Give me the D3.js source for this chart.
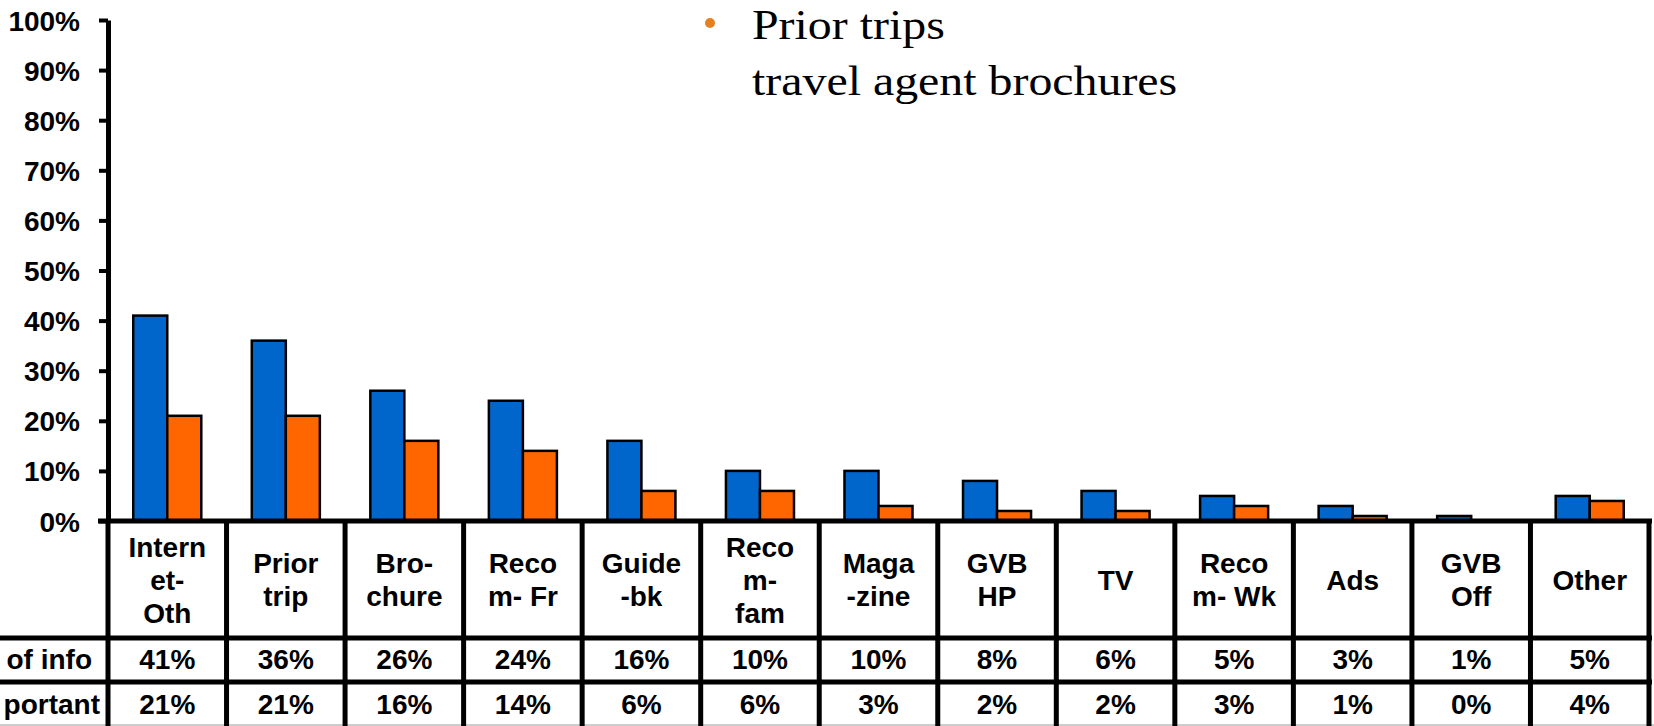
<!DOCTYPE html>
<html>
<head>
<meta charset="utf-8">
<script src="https://cdn.jsdelivr.net/npm/d3@7"></script>
<style>
  html, body { margin: 0; padding: 0; background: #ffffff; }
  svg { display: block; }
  .sans { font-family: "Liberation Sans", Arial, sans-serif; font-weight: bold; }
  .serif { font-family: "Liberation Serif", "Times New Roman", serif; }
</style>
</head>
<body>
<svg id="chart" width="1654" height="726"></svg>
<script>
// Information sources used when planning a trip
const categories = [
  ["Intern", "et-", "Oth"],
  ["Prior", "trip"],
  ["Bro-", "chure"],
  ["Reco", "m- Fr"],
  ["Guide", "-bk"],
  ["Reco", "m-", "fam"],
  ["Maga", "-zine"],
  ["GVB", "HP"],
  ["TV"],
  ["Reco", "m- Wk"],
  ["Ads"],
  ["GVB", "Off"],
  ["Other"]
];
// share of respondents (%) that used the source
const sourceOfInfo = [41, 36, 26, 24, 16, 10, 10, 8, 6, 5, 3, 1, 5];
// share of respondents (%) naming it the most important source
const mostImportant = [21, 21, 16, 14, 6, 6, 3, 2, 2, 3, 1, 0, 4];
const seriesNames = ["of info", "portant"];
const yTicks = [0, 10, 20, 30, 40, 50, 60, 70, 80, 90, 100];
const legendLines = ["Prior trips", "travel agent brochures"];

const colors = ["#0066CC", "#FF6600"];

const svg = d3.select("#chart");
const W = 1654, H = 726;
const axisX = 108, yBase = 521, yTop = 20, rightX = 1649;
const rowLabelBottom = 638, rowInfoBottom = 682, rowImpBottom = 740;

const keys = categories.map((c, i) => "c" + i);
const x = d3.scaleBand().domain(keys).range([axisX, rightX]).padding(0);
const bw = x.bandwidth();
const xs = d3.scaleBand().domain([0, 1]).range([bw * 0.213, bw * 0.787]).padding(0);
const y = d3.scaleLinear().domain([0, 100]).range([yBase, yTop]);

const rows = keys.map((k, i) => ({ key: k, vals: [sourceOfInfo[i], mostImportant[i]] }));

// bars
const groups = svg.append("g").selectAll("g").data(rows).join("g")
  .attr("transform", d => `translate(${x(d.key)},0)`);
groups.selectAll("rect")
  .data(d => d.vals.map((v, s) => ({ v, s })))
  .join("rect")
  .attr("x", d => xs(d.s))
  .attr("width", xs.bandwidth())
  .attr("y", d => y(d.v))
  .attr("height", d => yBase - y(d.v))
  .attr("fill", d => colors[d.s])
  .attr("stroke", "#000")
  .attr("stroke-width", 2.5);

// y axis
const yAxis = d3.axisLeft(y)
  .tickValues(yTicks)
  .tickFormat(d => d + "%")
  .tickSize(9)
  .tickSizeOuter(0)
  .tickPadding(19);
const ya = svg.append("g").attr("transform", `translate(${axisX},0)`).call(yAxis);
ya.select(".domain").attr("stroke", "#000").attr("stroke-width", 5);
ya.selectAll(".tick line").attr("stroke", "#000").attr("stroke-width", 4);
ya.selectAll(".tick text")
  .attr("class", "sans")
  .attr("font-size", 28)
  .attr("fill", "#000")
  .attr("dy", "0.36em");

// data table under the plot
const table = svg.append("g");
// horizontal rules
table.append("line").attr("x1", axisX - 10).attr("x2", W - 2)
  .attr("y1", yBase).attr("y2", yBase)
  .attr("stroke", "#000").attr("stroke-width", 5);
[rowLabelBottom, rowInfoBottom].forEach(yy => {
  table.append("line").attr("x1", 0).attr("x2", W - 2)
    .attr("y1", yy).attr("y2", yy)
    .attr("stroke", "#000").attr("stroke-width", 5);
});
table.append("line").attr("x1", 0).attr("x2", W)
  .attr("y1", 725).attr("y2", 725)
  .attr("stroke", "#9a9a9a").attr("stroke-width", 1);
// vertical rules on band edges
const edges = keys.map(k => x(k)).concat([rightX]);
table.selectAll("line.v").data(edges).join("line")
  .attr("class", "v")
  .attr("x1", d => d).attr("x2", d => d)
  .attr("y1", yBase).attr("y2", rowImpBottom)
  .attr("stroke", "#000").attr("stroke-width", 5);

// category names
const labelMid = (yBase + rowLabelBottom) / 2;
const lineGap = 33;
categories.forEach((lines, i) => {
  const cx = x(keys[i]) + bw / 2;
  const t = table.append("text").attr("class", "sans")
    .attr("font-size", 28).attr("text-anchor", "middle").attr("fill", "#000");
  lines.forEach((ln, j) => {
    t.append("tspan").attr("x", cx)
      .attr("y", labelMid + 10 + (j - (lines.length - 1) / 2) * lineGap)
      .text(ln);
  });
});

// value rows
const valueRows = [
  { vals: sourceOfInfo, base: 669, label: seriesNames[0], lx: 92 },
  { vals: mostImportant, base: 714, label: seriesNames[1], lx: 100 }
];
valueRows.forEach(r => {
  table.append("text").attr("class", "sans")
    .attr("font-size", 28).attr("text-anchor", "end")
    .attr("x", r.lx).attr("y", r.base).text(r.label);
  table.selectAll(null).data(r.vals).join("text")
    .attr("class", "sans")
    .attr("font-size", 28).attr("text-anchor", "middle")
    .attr("x", (d, i) => x(keys[i]) + bw / 2)
    .attr("y", r.base)
    .text(d => d + "%");
});

// bullet note at the top
svg.append("circle").attr("cx", 710).attr("cy", 23).attr("r", 5).attr("fill", "#E5801E");
const note = svg.append("g").attr("transform", "translate(752,0) scale(1.14,1)");
note.selectAll("text").data(legendLines).join("text")
  .attr("class", "serif")
  .attr("font-size", 42)
  .attr("fill", "#000")
  .attr("x", 0)
  .attr("y", (d, i) => 39 + i * 56)
  .text(d => d);
</script>
</body>
</html>
